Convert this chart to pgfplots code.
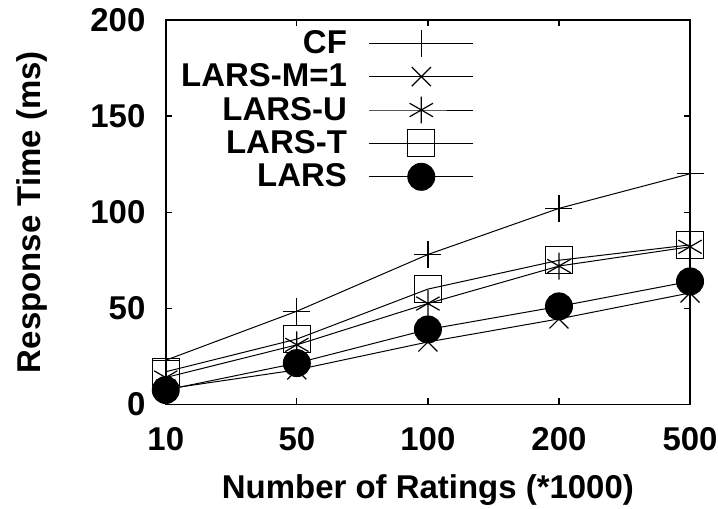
\documentclass[border=0pt]{standalone}
\usepackage{pgfplots}
\pgfplotsset{compat=1.18}
\usepackage{fontspec}
\setmainfont{Liberation Sans}

\begin{document}
\begin{tikzpicture}
\begin{axis}[
  scale only axis,
  width=262.5pt, height=192.5pt,
  xmin=0, xmax=4, ymin=0, ymax=200,
  xtick={0,1,2,3,4},
  xticklabels={10,50,100,200,500},
  ytick={0,50,100,150,200},
  tick align=inside,
  major tick length=3pt,
  axis line style={line width=0.9pt},
  every tick/.style={black, line width=0.6pt},
  font=\fontsize{16.5}{19}\selectfont\bfseries,
  /pgf/number format/assume math mode=true,
  xticklabel style={anchor=north, inner sep=0pt, yshift=-11.5pt},
  yticklabel style={anchor=east, inner sep=0pt, xshift=-10pt},
  xlabel={Number of Ratings (*1000)},
  ylabel={Response Time (ms)},
  every axis x label/.style={at={(rel axis cs:0.5,0)}, anchor=base,
    inner sep=0pt, yshift=-47.25pt},
  every axis y label/.style={at={(rel axis cs:0,0.5)}, anchor=center,
    inner sep=0pt, rotate=90, yshift=67pt},
  clip=false,
  legend plot pos=right,
  legend cell align=right,
  legend style={at={(0.592,0.99)}, anchor=north east, draw=none, fill=none,
    font=\fontsize{16.5}{19}\selectfont\bfseries,
    row sep=-0.3pt, inner sep=1pt,
    /tikz/every odd column/.append style={column sep=9pt}},
  legend image code/.code={%
    \draw[mark repeat=2,mark phase=2] plot coordinates {(0pt,0pt) (26pt,0pt) (52pt,0pt)};},
  every axis plot/.append style={black, line width=0.5pt, mark size=6.75pt,
    mark options={line width=0.6pt}},
]
\addplot[mark=+] coordinates {(0,23) (1,48.5) (2,78) (3,102) (4,120)};
\addlegendentry{CF}
\addplot[mark=x] coordinates {(0,8) (1,18) (2,32.5) (3,44.5) (4,58)};
\addlegendentry{LARS-M=1}
\addplot[mark=asterisk] coordinates {(0,14) (1,31) (2,52.5) (3,72) (4,82)};
\addlegendentry{LARS-U}
\addplot[mark=square, mark options={fill=none}] coordinates {(0,17) (1,34) (2,60) (3,75) (4,83)};
\addlegendentry{LARS-T}
\addplot[mark=*, mark options={fill=black}] coordinates {(0,7.5) (1,21.5) (2,39) (3,51) (4,64)};
\addlegendentry{LARS}
\coordinate (bl) at (rel axis cs:0,0);
\coordinate (tr) at (rel axis cs:1,1);
\end{axis}
% page frame around the axis box and its labels
\pgfresetboundingbox
\path ([xshift=-83pt,yshift=-52pt]bl) rectangle ([xshift=14pt,yshift=10pt]tr);
\end{tikzpicture}
\end{document}
